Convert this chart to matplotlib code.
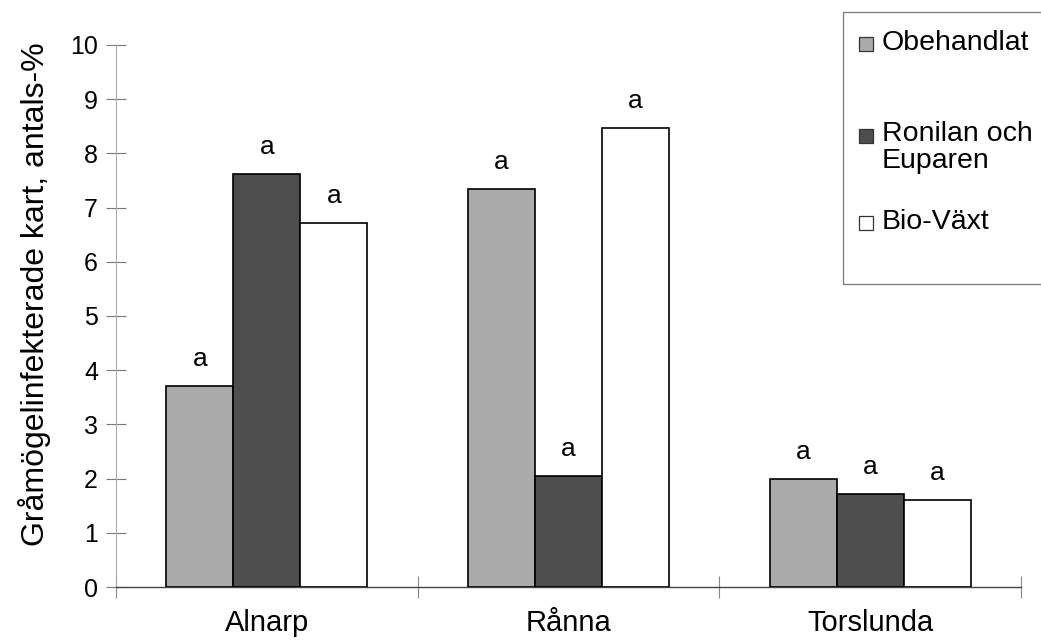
import numpy as np
import matplotlib.pyplot as plt
from matplotlib.patches import Rectangle

plt.rcParams['font.family'] = ['Liberation Sans', 'DejaVu Sans']

# data
platser = ['Alnarp', 'Rånna', 'Torslunda']
behandlingar = ['Obehandlat', 'Ronilan och\nEuparen', 'Bio-Växt']
obehandlat = [3.71, 7.34, 1.99]
ronilan = [7.62, 2.05, 1.72]
biovaxt = [6.72, 8.47, 1.61]
bokstaver = [['a', 'a', 'a'], ['a', 'a', 'a'], ['a', 'a', 'a']]

fig = plt.figure(figsize=(10.41, 6.4), dpi=100)
ax = fig.add_axes([0.1114, 0.0828, 0.8693, 0.8469])

x = np.arange(len(platser))
w = 0.222
farger = ['#ababab', '#4e4e4e', 'white']
serier = [obehandlat, ronilan, biovaxt]

for i, (vals, c) in enumerate(zip(serier, farger)):
    ax.bar(x + (i - 1) * w, vals, w, color=c, edgecolor='black', linewidth=1.2, zorder=3)
    for j, v in enumerate(vals):
        ax.text(x[j] + (i - 1) * w, v + 0.28, bokstaver[j][i], ha='center', va='bottom', fontsize=19)

ax.set_xlim(-0.5, 2.5)
ax.set_ylim(0, 10)
ax.set_yticks(range(0, 11))
ax.set_ylabel('Gråmögelinfekterade kart, antals-%', fontsize=23)
ax.yaxis.set_label_coords(-0.072, 0.54)

# category labels under groups, ticks at group boundaries
ax.set_xticks([-0.5, 0.5, 1.5, 2.5])
ax.set_xticklabels([])
ax.tick_params(axis='x', direction='inout', length=16, color='#888888', width=0.8)
for j, p in enumerate(platser):
    ax.text(x[j], -0.66, p, ha='center', va='center', fontsize=21)

ax.tick_params(axis='y', direction='inout', length=14, color='#777777', width=0.8,
               labelsize=18, pad=6)
for s in ['top', 'right']:
    ax.spines[s].set_visible(False)
ax.spines['left'].set_color('#aaaaaa')
ax.spines['left'].set_linewidth(0.8)
ax.spines['bottom'].set_color('#444444')
ax.spines['bottom'].set_linewidth(1.0)

# legend box drawn by hand (uneven spacing in the original)
W, H = fig.get_size_inches() * fig.dpi
def fx(px):
    return px / W
def fy(py):
    return 1 - py / H

fig.patches.append(Rectangle((fx(843), fy(284)), fx(1045) - fx(843), fy(12) - fy(284),
                             transform=fig.transFigure, facecolor='white',
                             edgecolor='#777777', linewidth=0.9, zorder=5))
leg_y = [43, 135, 222]
leg_txt = ['Obehandlat', 'Ronilan och\nEuparen', 'Bio-Växt']
for yy, t, c in zip(leg_y, leg_txt, farger):
    fig.patches.append(Rectangle((fx(859), fy(yy + 8)), fx(14), fy(0) - fy(14),
                                 transform=fig.transFigure, facecolor=c,
                                 edgecolor='#333333', linewidth=0.9, zorder=6))
    if '\n' in t:
        fig.text(fx(882), fy(yy - 14), t, ha='left', va='top', fontsize=20.5,
                 zorder=7, linespacing=1.05)
    else:
        fig.text(fx(882), fy(yy), t, ha='left', va='center', fontsize=20.5, zorder=7)

fig.savefig('out.png', dpi=100)
